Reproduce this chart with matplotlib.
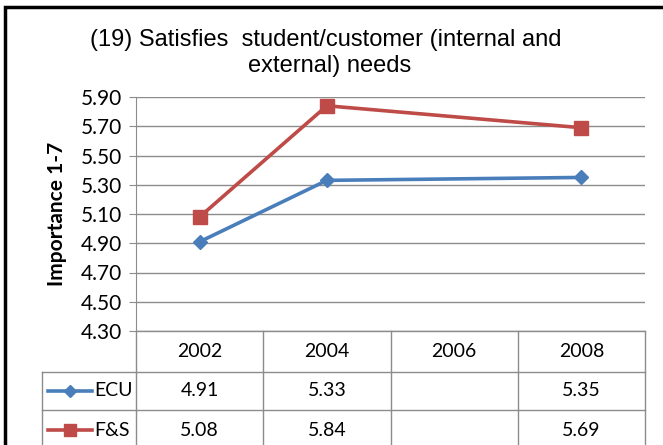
import numpy as np
import matplotlib.pyplot as plt
import matplotlib.transforms as mtransforms
from matplotlib.lines import Line2D
from matplotlib.patches import Rectangle

# data
years = ['2002', '2004', '2006', '2008']
ecu = [4.91, 5.33, None, 5.35]
fs = [5.08, 5.84, None, 5.69]
series_names = ['ECU', 'F&S']
yticks = [4.30, 4.50, 4.70, 4.90, 5.10, 5.30, 5.50, 5.70, 5.90]

colors = ['#4A7EBB', '#BE4B48']
markers = ['D', 's']
msizes = [7, 10]

plt.rcParams['font.family'] = ['Lato', 'DejaVu Sans']

W, H = 663, 445
fig = plt.figure(figsize=(W / 100, H / 100), dpi=100)
ax = fig.add_axes([136 / W, 1 - 331 / H, (645 - 136) / W, (331 - 97) / H])

x = np.arange(len(years))
for vals, c, m, ms in zip([ecu, fs], colors, markers, msizes):
    xs = [i for i, v in zip(x, vals) if v is not None]
    ys = [v for v in vals if v is not None]
    ax.plot(xs, ys, color=c, lw=2.6, marker=m, ms=ms, zorder=3)

ax.set_xlim(-0.5, len(years) - 0.5)
ax.set_ylim(4.30, 5.90)
ax.set_yticks(yticks)
ax.set_yticklabels([f'{t:.2f}' for t in yticks], fontsize=15)
ax.set_xticks([])
ax.grid(axis='y', color='#8c8c8c', lw=1)
ax.set_axisbelow(True)
for s in ['top', 'right', 'bottom']:
    ax.spines[s].set_visible(False)
ax.spines['left'].set_color('#8c8c8c')
ax.tick_params(axis='y', length=5, color='#8c8c8c', pad=5)
ax.set_ylabel('Importance 1-7', fontsize=15, fontweight='bold', labelpad=10)

title_font = ['Liberation Sans', 'DejaVu Sans']
fig.text(0.492, 1 - 40 / H, '(19) Satisfies  student/customer (internal and',
         ha='center', va='center', fontsize=17, family=title_font)
fig.text(0.497, 1 - 66 / H, 'external) needs', ha='center', va='center',
         fontsize=17, family=title_font)

# data table below the axis
grid_c = '#8c8c8c'
tr = mtransforms.blended_transform_factory(ax.transData, fig.transFigure)
rows_px = [331, 372, 410, 450]
rows = [1 - r / H for r in rows_px]
left_px = 42
for r in rows:
    fig.add_artist(Line2D([136 / W, 645 / W], [r, r], color=grid_c, lw=1))
for r in rows[1:]:
    fig.add_artist(Line2D([left_px / W, 136 / W], [r, r], color=grid_c, lw=1))
fig.add_artist(Line2D([left_px / W, left_px / W], [rows[1], rows[-1]], color=grid_c, lw=1))
for i in range(len(years) + 1):
    ax.add_artist(Line2D([i - 0.5, i - 0.5], [rows[0], rows[-1]], color=grid_c, lw=1,
                         transform=tr, clip_on=False))

for i, yr in enumerate(years):
    ax.text(i, (rows[0] + rows[1]) / 2, yr, transform=tr, ha='center', va='center', fontsize=14)

for k, (name, vals) in enumerate(zip(series_names, [ecu, fs])):
    yc = (rows[k + 1] + rows[k + 2]) / 2
    for i, v in enumerate(vals):
        if v is not None:
            ax.text(i, yc, f'{v:.2f}', transform=tr, ha='center', va='center', fontsize=14)
    fig.add_artist(Line2D([48 / W, 92 / W], [yc, yc], color=colors[k], lw=2.6))
    fig.add_artist(Line2D([70 / W], [yc], color=colors[k], marker=markers[k], ms=msizes[k] - 1))
    fig.text(94 / W, yc, name, ha='left', va='center', fontsize=14)

# outer frame
fig.add_artist(Rectangle((5 / W, -0.1), 1.2, 1 - 7 / H + 0.1, transform=fig.transFigure,
                         fill=False, ec='black', lw=2.5))

fig.savefig('out.png', dpi=100)
